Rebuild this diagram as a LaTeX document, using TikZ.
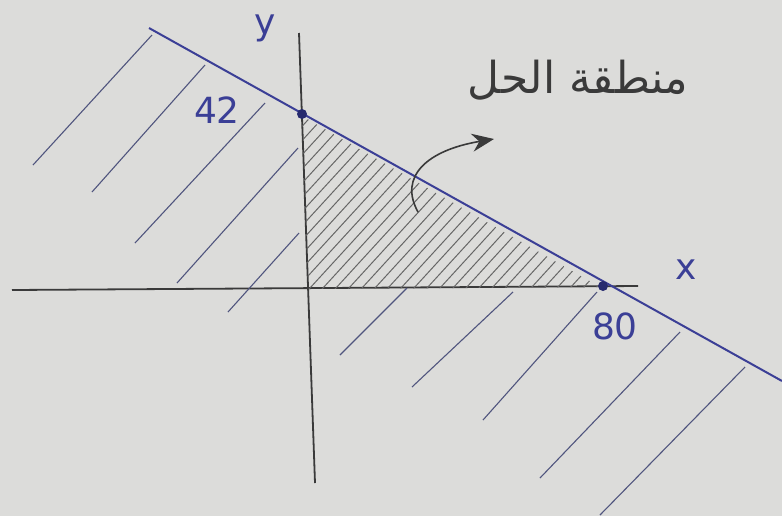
\documentclass[tikz,border=0pt]{standalone}
\usepackage{fontspec}
\usepackage{xcolor}
\usepackage{tikz}
\usetikzlibrary{arrows.meta}
\TeXXeTstate=1
\newfontfamily\arabicfont[Script=Arabic]{DejaVu Sans}
\newfontfamily\handfont{DejaVu Sans}
\definecolor{paper}{HTML}{DCDCDA}
\definecolor{ink}{HTML}{3B3F96}
\definecolor{inkdot}{HTML}{262A6E}
\definecolor{pencil}{HTML}{3A3A3A}
\definecolor{hatchout}{HTML}{50557E}
\definecolor{hatchin}{HTML}{666666}

\begin{document}
\begin{tikzpicture}[
  x=0.5pt,y=-0.5pt,
  axis/.style={draw=pencil,line width=0.9pt},
  bound/.style={draw=ink,line width=1pt},
  hatch/.style={draw=hatchout,line width=0.55pt},
  fillhatch/.style={draw=hatchin,line width=0.5pt},
  dot/.style={circle,fill=inkdot,inner sep=0pt,minimum size=5pt},
  lbl/.style={text=ink,font=\handfont\fontsize{18}{20}\selectfont,inner sep=1pt},
  arr/.style={-{Stealth[length=11pt,width=9pt]},draw=pencil,line width=0.8pt}
]
\path[use as bounding box,fill=paper] (0,0) rectangle (782,516);
% axes
\coordinate (xl) at (12,290);
\coordinate (xr) at (638,286);
\coordinate (yt) at (299,33);
\coordinate (yb) at (315,483);
\draw[axis] (xl) -- (xr);
\draw[axis] (yt) -- (yb);
% constraint line
\coordinate (c1) at (149,28);
\coordinate (c2) at (782,381);
\draw[bound] (c1) -- (c2);
\node[dot] (p42) at (302,114) {};
\node[dot] (p80) at (603,286) {};
% feasible region
\begin{scope}
  \clip (308,289) -- (302,116) -- (600,287) -- cycle;
  \foreach \t in {130,143,...,620}
    \draw[fillhatch] (\t,300) -- ++(185,-202);
\end{scope}
% outside hatching
\draw[hatch] (152,35) -- (33,165);
\draw[hatch] (205,65) -- (92,192);
\draw[hatch] (265,103) -- (135,243);
\draw[hatch] (298,148) -- (177,283);
\draw[hatch] (299,233) -- (228,312);
\draw[hatch] (407,288) -- (340,355);
\draw[hatch] (513,292) -- (412,387);
\draw[hatch] (597,292) -- (483,420);
\draw[hatch] (680,332) -- (540,478);
\draw[hatch] (745,367) -- (600,515);
% labels
\node[lbl] (ly) at (265,28) {y};
\node[lbl] (lx) at (686,270) {x};
\node[lbl] (l42) at (217,110) {42};
\node[lbl] (l80) at (615,326) {80};
\node[text=pencil,font=\arabicfont\fontsize{22}{24}\selectfont] (sol) at (578,80) {\beginR منطقة الحل\endR};
\coordinate (arrA) at (418,212);
\coordinate (arrB) at (494,139);
\draw[arr] (arrA) .. controls (398,176) and (428,150) .. (arrB);
\end{tikzpicture}
\end{document}
